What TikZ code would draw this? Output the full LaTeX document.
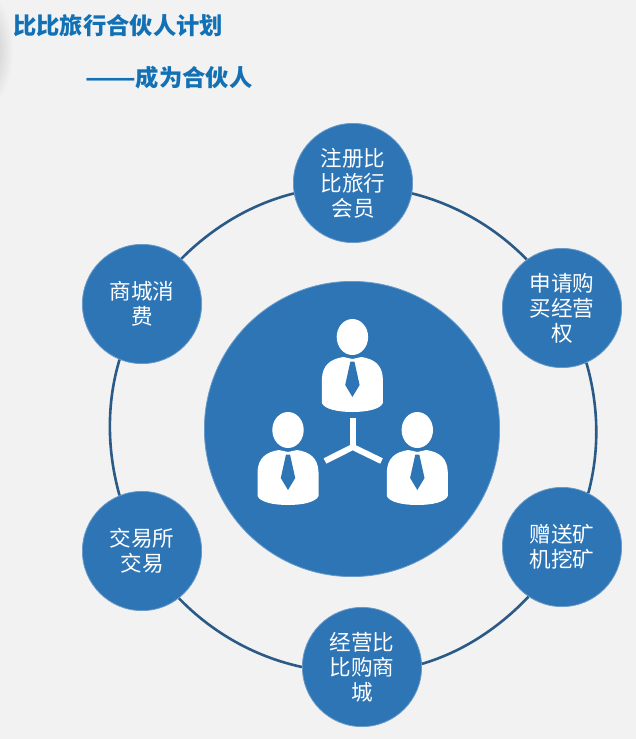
\documentclass[tikz,border=0pt]{standalone}
\usepackage{fontspec}
\usepackage{graphicx}
\setmainfont{Noto Sans CJK SC}
\definecolor{bgc}{HTML}{F2F2F2}
\definecolor{blu}{HTML}{2E75B6}
\definecolor{ringc}{HTML}{2A5A85}
\definecolor{titlec}{HTML}{1270B5}
\tikzset{
  x=1pt,y=-1pt,
  stepdisc/.style={circle,fill=blu,draw=blu!70!bgc,line width=0.8pt,text=white,minimum size=119.2pt,inner sep=0pt,align=center,
    font=\fontsize{21.6}{25}\selectfont},
  hubdisc/.style={circle,fill=blu,draw=blu!70!bgc,line width=0.8pt,minimum size=295.2pt,inner sep=0pt},
  ringline/.style={draw=ringc,line width=2.6pt,looseness=0.87},
  titletext/.style={text=titlec,anchor=west,inner sep=0pt,font=\fontsize{23.3}{27}\selectfont\bfseries},
  hubarm/.style={draw=white,line width=6pt},
  person/.pic={
    \fill[white] (0,0) ellipse [x radius=15.7pt,y radius=18pt];
    \fill[white] (-9,20) .. controls (-22,22) and (-30,28) .. (-30.5,42)
      -- (-30.5,66) .. controls (-28,72) and (-15,75) .. (0,75)
      .. controls (15,75) and (28,72) .. (30.5,66) -- (30.5,42)
      .. controls (30,28) and (22,22) .. (9,20) -- (0,22) -- cycle;
    \fill[blu] (-2,24.5) -- (2,24.5) -- (7.2,48) -- (0,60) -- (-7.2,48) -- cycle;
  }
}
\begin{document}
\begin{tikzpicture}
\useasboundingbox (0,0) rectangle (636,739);
\fill[bgc] (0,0) rectangle (636,739);
\begin{scope}
  \clip (0,0) rectangle (636,739);
  \shade[inner color=black!24,outer color=bgc] (-14,50) ellipse [x radius=27pt,y radius=58pt];
\end{scope}

\node[titletext] (title) at (13,26) {比比旅行合伙人计划};
\node[titletext] (subtitle) at (85,78) {\scalebox{1.27}[1]{——}成为合伙人};

\node[stepdisc] (s1) at (353,183) {注册比\\比旅行\\会员};
\node[stepdisc] (s2) at (562,308) {申请购\\买经营\\权};
\node[stepdisc] (s3) at (562,547) {赠送矿\\机挖矿};
\node[stepdisc] (s4) at (362,667) {经营比\\比购商\\城};
\node[stepdisc] (s5) at (142,551) {交易所\\交易};
\node[stepdisc] (s6) at (142,304) {商城消\\费};

\path[ringline] (s1.-10.81) to[out=-14.04,in=134.47] (s2.126.43);
\path[ringline] (s2.294.11) to[out=-73.93,in=75.02] (s3.64.57);
\path[ringline] (s3.236.95) to[out=-133.5,in=16.47] (s4.3.81);
\path[ringline] (s4.180.53) to[out=-192.13,in=-46] (s5.-52.89);
\path[ringline] (s5.112.55) to[out=-254.3,in=253.25] (s6.248.86);
\path[ringline] (s6.49.46) to[out=45.07,in=194.04] (s1.190.81);

\node[hubdisc] (hub) at (352,429) {};

\pic at (352.4,337) {person};
\pic at (288,430) {person};
\pic at (417.3,430) {person};

\coordinate (fork) at (352.7,447);
\coordinate (armtop) at (352.7,418);
\coordinate (armleft) at (325,461);
\coordinate (armright) at (381.5,461);
\draw[hubarm] (armtop) -- (fork);
\draw[hubarm] (armleft) -- (fork) -- (armright);
\end{tikzpicture}
\end{document}
